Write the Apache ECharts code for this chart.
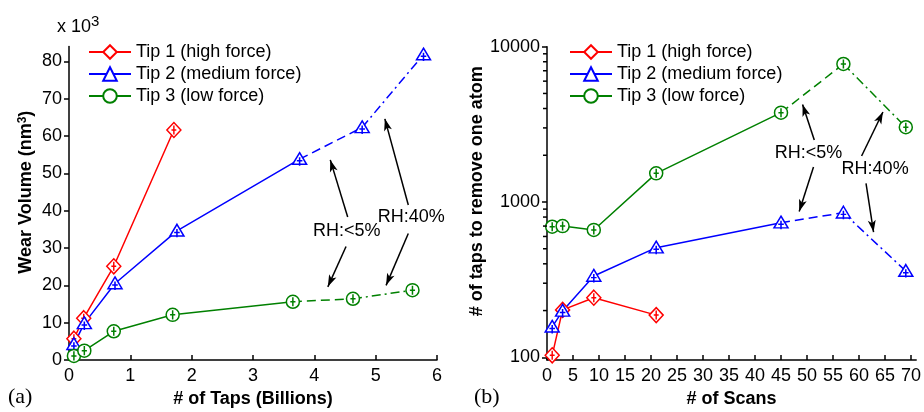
<!DOCTYPE html>
<html>
<head>
<meta charset="utf-8">
<script src="https://cdn.jsdelivr.net/npm/echarts@6/dist/echarts.min.js"></script>
<style>
  html, body { margin: 0; padding: 0; background: #fff; }
  #chart { width: 924px; height: 412px; }
</style>
</head>
<body>
<div id="chart"></div>
<script>
// (a) cumulative wear volume (x 10^3 nm^3) against number of taps (billions)
const tapsTip1 = [0.08, 0.24, 0.73, 1.71];
const volumeTip1 = [5.7, 11.2, 25.1, 61.6];
const tapsTip2 = [0.08, 0.25, 0.75, 1.76, 3.76, 4.78, 5.78];
const volumeTip2 = [4.2, 9.8, 20.5, 34.6, 53.8, 62.3, 81.8];
const tapsTip3 = [0.08, 0.25, 0.73, 1.69, 3.65, 4.63, 5.6];
const volumeTip3 = [1.1, 2.5, 7.7, 12.1, 15.6, 16.4, 18.7];

// (b) taps needed to remove one atom against number of scans
const scansTip1 = [1, 3, 9, 21];
const tapsPerAtomTip1 = [103, 202, 242, 187];
const scansTip2 = [1, 3, 9, 21, 45, 57, 69];
const tapsPerAtomTip2 = [157, 199, 334, 508, 736, 853, 359];
const scansTip3 = [1, 3, 9, 21, 45, 57, 69];
const tapsPerAtomTip3 = [693, 700, 661, 1530, 3760, 7740, 3030];

const tipNames = ['Tip 1 (high force)', 'Tip 2 (medium force)', 'Tip 3 (low force)'];

// tick values
const tapTicks = [0, 1, 2, 3, 4, 5, 6];
const volumeTicks = [0, 10, 20, 30, 40, 50, 60, 70, 80];
const scanTicks = [0, 5, 10, 15, 20, 25, 30, 35, 40, 45, 50, 55, 60, 65, 70];
const logMajorTicks = [100, 1000, 10000];
const logMinorTicks = [200, 300, 400, 500, 600, 700, 800, 900,
                       2000, 3000, 4000, 5000, 6000, 7000, 8000, 9000];

// humidity regimes: index 4->5 is dry (<5 %), 5->6 is humid (40 %)
const rhTexts = ['RH:<5%', 'RH:40%'];
const rhLabelA = [[4.53, 34.6], [5.58, 38.4]];
const rhArrowsA = [
  [[4.544, 38.3], [4.26, 53.6]],
  [[4.517, 30.4], [4.22, 19.6]],
  [[5.532, 41.5], [5.15, 64.6]],
  [[5.532, 33.9], [5.17, 20.0]]
];
const rhLabelB = [[50.3, 2075], [63.1, 1626]];
const rhArrowsB = [
  [[51.4, 2506], [49.15, 4250]],
  [[51.25, 1679], [48.5, 870]],
  [[60.5, 1977], [64.6, 3800]],
  [[61.35, 1318], [62.8, 640]]
];

const FONT = "'Liberation Sans', Arial, Helvetica, sans-serif";
const SERIF = "'Liberation Serif', 'Times New Roman', serif";
const tipColors = ['#ff0000', '#0000ff', '#008000'];
const markerPaths = [
  'path://M0,-10L10,0L0,10L-10,0Z M0,-6L0,6 M-3.5,0L3.5,0',
  'path://M0,-10L10,8L-10,8Z M0,-3L0,10 M-4,2.5L4,2.5',
  'path://M-10,0A10,10,0,1,1,10,0A10,10,0,1,1,-10,0Z M0,-7L0,7 M-4,0L4,0'
];
const markerSizes = [[14, 15], [14, 13], [13, 13]];
const legendSymbols = ['emptyDiamond', 'emptyTriangle', 'emptyCircle'];

// log axis range of panel (b)
const LOG_MIN = 96.1, LOG_MAX = 10000;

function toPoints(xs, ys, from, to) {
  const pts = [];
  for (let i = from; i <= to; i++) pts.push([xs[i], ys[i]]);
  return pts;
}

// one tip on one panel: solid run, dashed (dry) and dash-dot (humid) segments, then markers
function tipSeries(panel, tip, xs, ys) {
  const color = tipColors[tip];
  const n = xs.length;
  const solidEnd = Math.min(n - 1, 4);
  const line = (suffix, pts, type) => ({
    type: 'line', name: 'p' + panel + '-tip' + tip + '-' + suffix,
    xAxisIndex: panel, yAxisIndex: panel, data: pts,
    symbol: 'none', showSymbol: false, silent: true, z: 2,
    lineStyle: { color: color, width: 1.5, type: type }
  });
  const out = [line('solid', toPoints(xs, ys, 0, solidEnd), 'solid')];
  if (n > 5) {
    out.push(line('dry', toPoints(xs, ys, 4, 5), [9, 5]));
    out.push(line('humid', toPoints(xs, ys, 5, 6), [9, 4, 2, 4]));
  }
  out.push({
    type: 'scatter', name: 'p' + panel + '-tip' + tip + '-pts',
    xAxisIndex: panel, yAxisIndex: panel, data: toPoints(xs, ys, 0, n - 1),
    symbol: markerPaths[tip], symbolSize: markerSizes[tip], silent: true, z: 3,
    itemStyle: { color: '#fff', borderColor: color, borderWidth: 1.5, opacity: 1 }
  });
  return out;
}

function notesSeries(panel, labels, arrows) {
  return {
    type: 'line', name: 'notes-' + panel, data: [],
    xAxisIndex: panel, yAxisIndex: panel, silent: true, z: 4,
    markLine: {
      silent: true, animation: false,
      symbol: ['none', 'arrow'],
      label: { show: false },
      lineStyle: { color: '#000', width: 1.5, type: 'solid' },
      emphasis: { disabled: true },
      data: arrows.map(a => [
        { coord: a[0], symbol: 'none' },
        { coord: a[1], symbol: 'arrow', symbolSize: [6, 12] }
      ])
    },
    markPoint: {
      silent: true, animation: false,
      symbol: 'circle', symbolSize: 0,
      itemStyle: { color: 'rgba(0,0,0,0)' },
      label: { show: true, position: 'inside', formatter: '{b}',
               fontSize: 18, color: '#000', fontFamily: FONT },
      data: labels.map((p, i) => ({ name: rhTexts[i], coord: p }))
    }
  };
}

const axisLineStyle = { color: '#000', width: 1.5 };
const labelStyle = { fontSize: 18, color: '#000', fontFamily: FONT };
const nameStyle = { fontSize: 18, fontWeight: 'bold', color: '#000', fontFamily: FONT };

const option = {
  animation: false,
  backgroundColor: '#fff',
  grid: [
    { left: 69, right: 924 - 437, top: 46.4, bottom: 52, containLabel: false, outerBoundsMode: 'none' },
    { left: 547, right: 924 - 916.2, top: 46.7, bottom: 52, containLabel: false, outerBoundsMode: 'none' }
  ],
  xAxis: [
    {
      gridIndex: 0, type: 'value', min: 0, max: 6,
      axisLine: { onZero: false, lineStyle: axisLineStyle },
      axisTick: { inside: true, length: 5, customValues: tapTicks, lineStyle: axisLineStyle },
      axisLabel: Object.assign({ margin: 7, customValues: tapTicks }, labelStyle),
      splitLine: { show: false },
      name: '# of Taps (Billions)', nameLocation: 'middle', nameGap: 28,
      nameTextStyle: nameStyle
    },
    {
      gridIndex: 1, type: 'value', min: 0, max: 71,
      axisLine: { onZero: false, lineStyle: axisLineStyle },
      axisTick: { inside: true, length: 5, customValues: scanTicks, lineStyle: axisLineStyle },
      axisLabel: Object.assign({ margin: 7, customValues: scanTicks }, labelStyle),
      splitLine: { show: false },
      name: '# of Scans', nameLocation: 'middle', nameGap: 28,
      nameTextStyle: nameStyle
    }
  ],
  yAxis: [
    {
      gridIndex: 0, type: 'value', min: 0, max: 84,
      axisLine: { show: true, onZero: false, lineStyle: axisLineStyle },
      axisTick: { show: true, length: 5, customValues: volumeTicks, lineStyle: axisLineStyle },
      axisLabel: Object.assign({ margin: 7, customValues: volumeTicks }, labelStyle),
      splitLine: { show: false },
      name: 'Wear Volume (nm{sup|3})', nameLocation: 'middle', nameGap: 34,
      nameTextStyle: Object.assign({
        padding: [0, 0, 0, 22],
        rich: { sup: { fontSize: 12, fontWeight: 'bold', verticalAlign: 'top', fontFamily: FONT, color: '#000' } }
      }, nameStyle)
    },
    {
      gridIndex: 1, type: 'log', logBase: 10, min: LOG_MIN, max: LOG_MAX, position: 'left',
      axisLine: { show: true, onZero: false, lineStyle: axisLineStyle },
      axisTick: { show: true, length: 5, customValues: logMajorTicks, lineStyle: axisLineStyle },
      axisLabel: Object.assign({
        margin: 7, customValues: logMajorTicks,
        formatter: v => String(Math.round(v))
      }, labelStyle),
      splitLine: { show: false },
      name: '# of taps to remove one atom', nameLocation: 'middle', nameGap: 52,
      nameTextStyle: Object.assign({ padding: [0, 0, 0, 24] }, nameStyle)
    }
  ],
  legend: [0, 1].map(i => ({
    data: tipNames, orient: 'vertical',
    left: i === 0 ? 88 : 569, top: 43,
    itemWidth: 42, itemHeight: 17, itemGap: 4, padding: 0,
    selectedMode: false,
    textStyle: { fontSize: 18, color: '#000', fontFamily: FONT }
  })),
  series: [].concat(
    tipNames.map((name, i) => ({
      type: 'line', name: name, data: [], xAxisIndex: 0, yAxisIndex: 0,
      symbol: legendSymbols[i], symbolSize: 12,
      itemStyle: { color: tipColors[i] },
      lineStyle: { color: tipColors[i], width: 1.5 }
    })),
    tipSeries(0, 0, tapsTip1, volumeTip1),
    tipSeries(0, 1, tapsTip2, volumeTip2),
    tipSeries(0, 2, tapsTip3, volumeTip3),
    tipSeries(1, 0, scansTip1, tapsPerAtomTip1),
    tipSeries(1, 1, scansTip2, tapsPerAtomTip2),
    tipSeries(1, 2, scansTip3, tapsPerAtomTip3),
    [notesSeries(0, rhLabelA, rhArrowsA), notesSeries(1, rhLabelB, rhArrowsB)]
  )
};

const chart = echarts.init(document.getElementById('chart'), null, { renderer: 'canvas' });
chart.setOption(option);

// text blocks plus short outward minor ticks on the log axis of panel (b)
const graphics = [
  { type: 'text', left: 57, top: 14,
    style: { text: 'x 10{s|3}', font: '18px ' + FONT, fill: '#000',
             rich: { s: { fontSize: 15, padding: [0, 0, 12, 0], fontFamily: FONT, fill: '#000' } } } },
  { type: 'text', left: 8, top: 386, style: { text: '(a)', font: '22px ' + SERIF, fill: '#000' } },
  { type: 'text', left: 474, top: 386, style: { text: '(b)', font: '22px ' + SERIF, fill: '#000' } }
];
logMinorTicks.forEach(v => {
  const p = chart.convertToPixel({ xAxisIndex: 1, yAxisIndex: 1 }, [0, v]);
  graphics.push({
    type: 'line', silent: true, z: 10,
    shape: { x1: p[0] - 4, y1: p[1], x2: p[0], y2: p[1] },
    style: { stroke: '#000', lineWidth: 1.5 }
  });
});
chart.setOption({ graphic: graphics });
</script>
</body>
</html>
